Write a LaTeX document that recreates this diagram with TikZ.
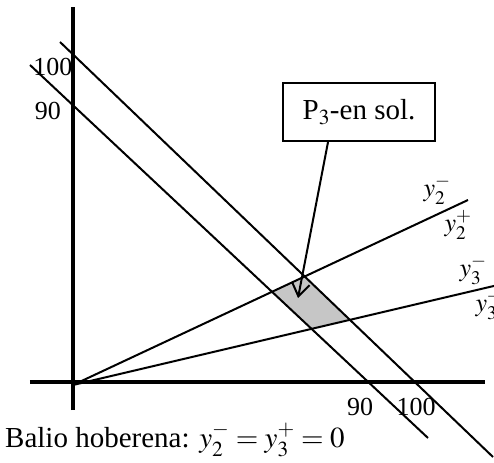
\documentclass[tikz,border=0pt]{standalone}
\usepackage{mathptmx}
\usepackage{fontspec}
\setmainfont{Liberation Serif}
\usetikzlibrary{arrows.meta}
\tikzset{
  axisline/.style={line width=3.2pt},
  limitline/.style={line width=2pt},
  lbl/.style={font=\fontsize{26}{30}\selectfont, inner sep=0pt},
  callout/.style={draw, line width=2.2pt, minimum width=152pt, minimum height=58pt,
    inner sep=0pt, font=\fontsize{29}{32}\selectfont},
}

\begin{document}
\begin{tikzpicture}[x=1pt,y=1pt]
\useasboundingbox (-73,-80) rectangle (421,382);
% fixed points
\coordinate (O) at (0,-3);
\coordinate (yTop) at (0,375);
\coordinate (yBot) at (0,-28);
\coordinate (xL) at (-43,0);
\coordinate (xR) at (412,0);
\coordinate (c100a) at (-13,340);
\coordinate (c100b) at (420,-75);
\coordinate (c90a) at (-43,317);
\coordinate (c90b) at (355,-56);
\coordinate (r2) at (395,182);
\coordinate (r3) at (425,97);
\coordinate (tip) at (225,84);
% feasible region
\fill[gray!45] (intersection of c90a--c90b and O--r2)
  -- (intersection of c100a--c100b and O--r2)
  -- (intersection of c100a--c100b and O--r3)
  -- (intersection of c90a--c90b and O--r3) -- cycle;
\draw[axisline] (yBot) -- (yTop);
\draw[axisline] (xL) -- (xR);
\draw[limitline] (c100a) -- (c100b);
\draw[limitline] (c90a) -- (c90b);
\draw[limitline] (O) -- (r2);
\draw[limitline] (O) -- (r3);
\node[lbl] (l100y) at (-20,315) {100};
\node[lbl] (l90y) at (-25,271) {90};
\node[lbl] (l90x) at (287,-25) {90};
\node[lbl] (l100x) at (343,-25) {100};
\node[lbl] (y2m) at (364,192) {$y_2^-$};
\node[lbl] (y2p) at (385,157) {$y_2^+$};
\node[lbl] (y3m) at (400,112) {$y_3^-$};
\node[lbl] (y3p) at (416,77) {$y_3^+$};
\node[callout] (box) at (286,270) {P$_3$-en sol.};
\draw[limitline, -{Straight Barb[length=13pt,width=18pt]}] ([xshift=-31pt]box.south) -- (tip);
\node[lbl, font=\fontsize{29}{32}\selectfont, anchor=base west] (note) at (-68,-65)
  {Balio hoberena: $y_2^- = y_3^+ = 0$};
\end{tikzpicture}
\end{document}
